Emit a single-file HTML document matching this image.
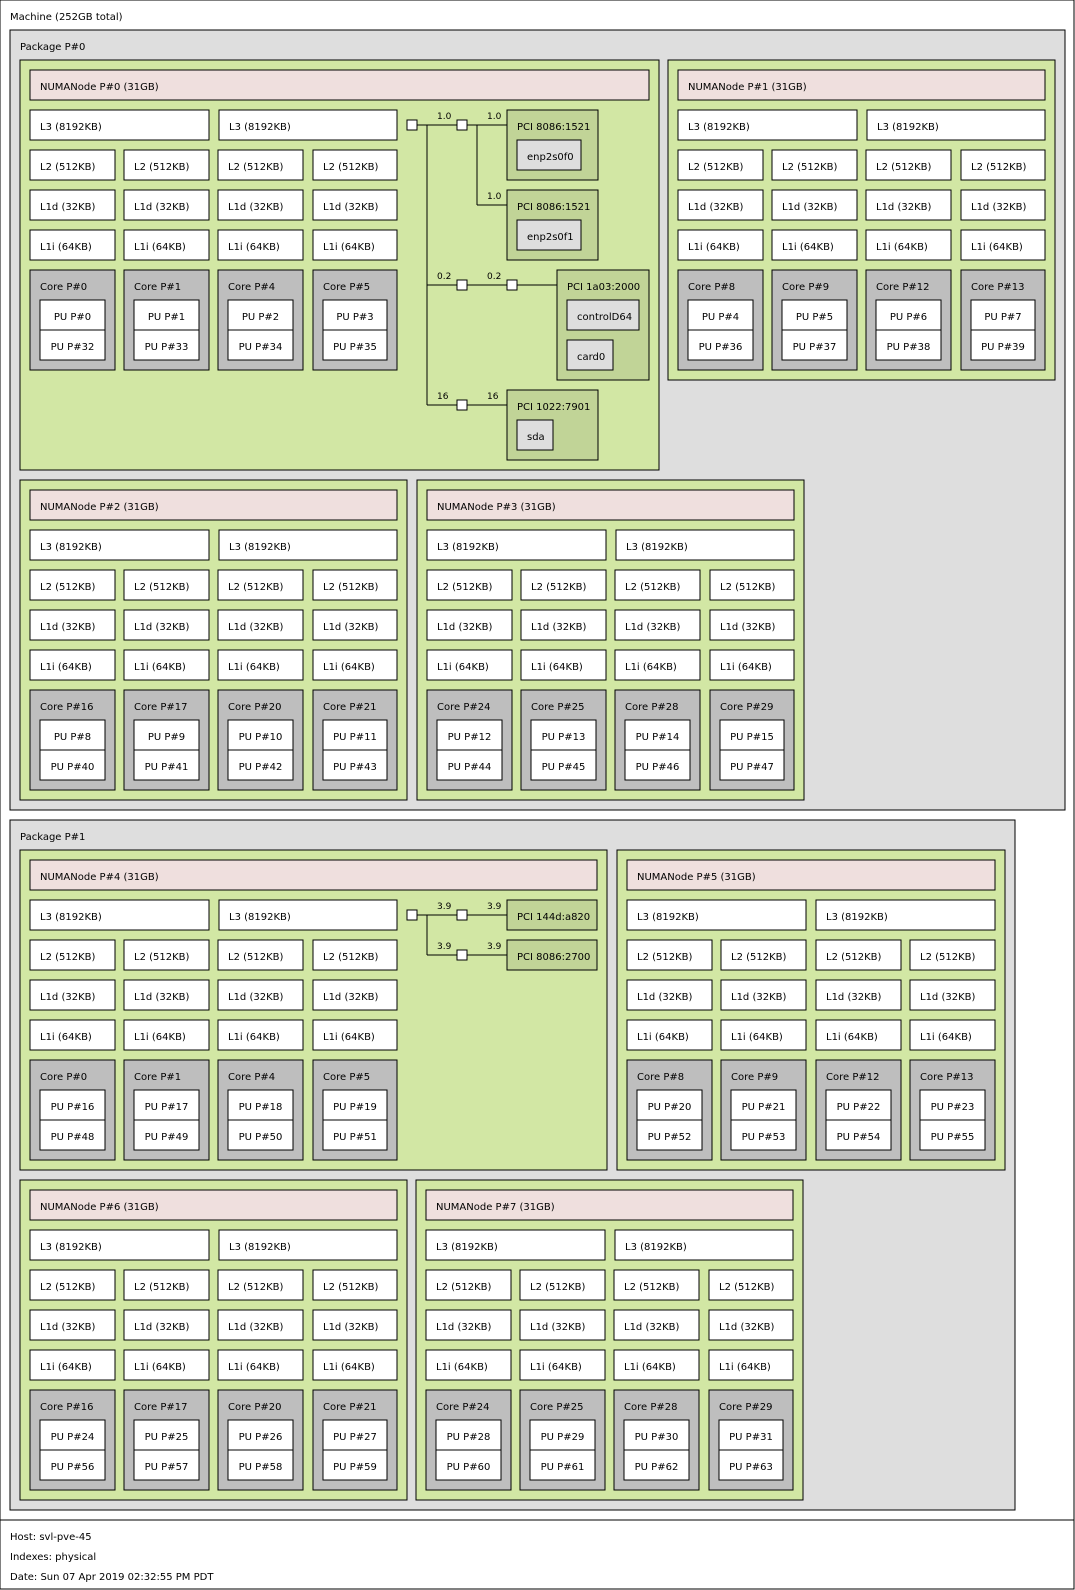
<!DOCTYPE html>
<html>
<head>
<meta charset="utf-8">
<style>
html,body{margin:0;padding:0;background:#fff;}
svg{display:block;}
rect{stroke:#000;stroke-width:1;}
line{stroke:#000;stroke-width:1;}
text{font-family:"DejaVu Sans","Liberation Sans",sans-serif;font-size:10px;fill:#000;}
.g{fill:#d2e7a4}.h{fill:#efdfde}.w{fill:#fff}.c{fill:#bebebe}.k{fill:#dedede}.q{fill:#c1d497}.p{fill:#dedede}
.m{text-anchor:middle}
.s{font-size:9px}
</style>
</head>
<body>
<svg width="1075" height="1590" viewBox="0 0 1075 1590" xmlns="http://www.w3.org/2000/svg">
<rect class="w" x="0" y="0" width="1074" height="1589"/>
<line x1="0" y1="1520" x2="1074" y2="1520"/>
<text x="10" y="20">Machine (252GB total)</text>
<text x="10" y="1540">Host: svl-pve-45</text>
<text x="10" y="1560">Indexes: physical</text>
<text x="10" y="1580">Date: Sun 07 Apr 2019 02:32:55 PM PDT</text>

<!-- Package 0 -->
<rect class="p" x="10" y="30" width="1055" height="780"/>
<text x="20" y="50">Package P#0</text>

<!-- NUMA0 -->
<g transform="translate(20,60)">
<rect class="g" x="0" y="0" width="639" height="410"/>
<rect class="h" x="10" y="10" width="619" height="30"/><text x="20" y="30">NUMANode P#0 (31GB)</text>
<rect class="w" x="10" y="50" width="179" height="30"/><text x="20" y="70">L3 (8192KB)</text>
<rect class="w" x="199" y="50" width="178" height="30"/><text x="209" y="70">L3 (8192KB)</text>
<rect class="w" x="10" y="90" width="85" height="30"/><text x="20" y="110">L2 (512KB)</text>
<rect class="w" x="104" y="90" width="85" height="30"/><text x="114" y="110">L2 (512KB)</text>
<rect class="w" x="198" y="90" width="85" height="30"/><text x="208" y="110">L2 (512KB)</text>
<rect class="w" x="293" y="90" width="84" height="30"/><text x="303" y="110">L2 (512KB)</text>
<rect class="w" x="10" y="130" width="85" height="30"/><text x="20" y="150">L1d (32KB)</text>
<rect class="w" x="104" y="130" width="85" height="30"/><text x="114" y="150">L1d (32KB)</text>
<rect class="w" x="198" y="130" width="85" height="30"/><text x="208" y="150">L1d (32KB)</text>
<rect class="w" x="293" y="130" width="84" height="30"/><text x="303" y="150">L1d (32KB)</text>
<rect class="w" x="10" y="170" width="85" height="30"/><text x="20" y="190">L1i (64KB)</text>
<rect class="w" x="104" y="170" width="85" height="30"/><text x="114" y="190">L1i (64KB)</text>
<rect class="w" x="198" y="170" width="85" height="30"/><text x="208" y="190">L1i (64KB)</text>
<rect class="w" x="293" y="170" width="84" height="30"/><text x="303" y="190">L1i (64KB)</text>
<rect class="c" x="10" y="210" width="85" height="100"/><text x="20" y="230">Core P#0</text>
<rect class="w" x="20" y="240" width="65" height="30"/><text class="m" x="52.5" y="260">PU P#0</text>
<rect class="w" x="20" y="270" width="65" height="30"/><text class="m" x="52.5" y="290">PU P#32</text>
<rect class="c" x="104" y="210" width="85" height="100"/><text x="114" y="230">Core P#1</text>
<rect class="w" x="114" y="240" width="65" height="30"/><text class="m" x="146.5" y="260">PU P#1</text>
<rect class="w" x="114" y="270" width="65" height="30"/><text class="m" x="146.5" y="290">PU P#33</text>
<rect class="c" x="198" y="210" width="85" height="100"/><text x="208" y="230">Core P#4</text>
<rect class="w" x="208" y="240" width="65" height="30"/><text class="m" x="240.5" y="260">PU P#2</text>
<rect class="w" x="208" y="270" width="65" height="30"/><text class="m" x="240.5" y="290">PU P#34</text>
<rect class="c" x="293" y="210" width="84" height="100"/><text x="303" y="230">Core P#5</text>
<rect class="w" x="303" y="240" width="64" height="30"/><text class="m" x="335" y="260">PU P#3</text>
<rect class="w" x="303" y="270" width="64" height="30"/><text class="m" x="335" y="290">PU P#35</text>
</g>

<!-- NUMA0 PCI -->
<line x1="417" y1="125" x2="457" y2="125"/>
<line x1="427" y1="125" x2="427" y2="405"/>
<line x1="467" y1="125" x2="507" y2="125"/>
<line x1="477" y1="125" x2="477" y2="205"/>
<line x1="477" y1="205" x2="507" y2="205"/>
<line x1="427" y1="285" x2="457" y2="285"/>
<line x1="467" y1="285" x2="507" y2="285"/>
<line x1="517" y1="285" x2="557" y2="285"/>
<line x1="427" y1="405" x2="457" y2="405"/>
<line x1="467" y1="405" x2="507" y2="405"/>
<rect class="w" x="407" y="120" width="10" height="10"/>
<rect class="w" x="457" y="120" width="10" height="10"/>
<rect class="w" x="457" y="280" width="10" height="10"/>
<rect class="w" x="507" y="280" width="10" height="10"/>
<rect class="w" x="457" y="400" width="10" height="10"/>
<text class="s" x="437" y="119">1.0</text>
<text class="s" x="487" y="119">1.0</text>
<text class="s" x="487" y="199">1.0</text>
<text class="s" x="437" y="279">0.2</text>
<text class="s" x="487" y="279">0.2</text>
<text class="s" x="437" y="399">16</text>
<text class="s" x="487" y="399">16</text>
<rect class="q" x="507" y="110" width="91" height="70"/><text x="517" y="130">PCI 8086:1521</text>
<rect class="k" x="517" y="140" width="64" height="30"/><text x="527" y="160">enp2s0f0</text>
<rect class="q" x="507" y="190" width="91" height="70"/><text x="517" y="210">PCI 8086:1521</text>
<rect class="k" x="517" y="220" width="64" height="30"/><text x="527" y="240">enp2s0f1</text>
<rect class="q" x="557" y="270" width="92" height="110"/><text x="567" y="290">PCI 1a03:2000</text>
<rect class="k" x="567" y="300" width="72" height="30"/><text x="577" y="320">controlD64</text>
<rect class="k" x="567" y="340" width="46" height="30"/><text x="577" y="360">card0</text>
<rect class="q" x="507" y="390" width="91" height="70"/><text x="517" y="410">PCI 1022:7901</text>
<rect class="k" x="517" y="420" width="36" height="30"/><text x="527" y="440">sda</text>

<!-- NUMA1 -->
<g transform="translate(668,60)">
<rect class="g" x="0" y="0" width="387" height="320"/>
<rect class="h" x="10" y="10" width="367" height="30"/><text x="20" y="30">NUMANode P#1 (31GB)</text>
<rect class="w" x="10" y="50" width="179" height="30"/><text x="20" y="70">L3 (8192KB)</text>
<rect class="w" x="199" y="50" width="178" height="30"/><text x="209" y="70">L3 (8192KB)</text>
<rect class="w" x="10" y="90" width="85" height="30"/><text x="20" y="110">L2 (512KB)</text>
<rect class="w" x="104" y="90" width="85" height="30"/><text x="114" y="110">L2 (512KB)</text>
<rect class="w" x="198" y="90" width="85" height="30"/><text x="208" y="110">L2 (512KB)</text>
<rect class="w" x="293" y="90" width="84" height="30"/><text x="303" y="110">L2 (512KB)</text>
<rect class="w" x="10" y="130" width="85" height="30"/><text x="20" y="150">L1d (32KB)</text>
<rect class="w" x="104" y="130" width="85" height="30"/><text x="114" y="150">L1d (32KB)</text>
<rect class="w" x="198" y="130" width="85" height="30"/><text x="208" y="150">L1d (32KB)</text>
<rect class="w" x="293" y="130" width="84" height="30"/><text x="303" y="150">L1d (32KB)</text>
<rect class="w" x="10" y="170" width="85" height="30"/><text x="20" y="190">L1i (64KB)</text>
<rect class="w" x="104" y="170" width="85" height="30"/><text x="114" y="190">L1i (64KB)</text>
<rect class="w" x="198" y="170" width="85" height="30"/><text x="208" y="190">L1i (64KB)</text>
<rect class="w" x="293" y="170" width="84" height="30"/><text x="303" y="190">L1i (64KB)</text>
<rect class="c" x="10" y="210" width="85" height="100"/><text x="20" y="230">Core P#8</text>
<rect class="w" x="20" y="240" width="65" height="30"/><text class="m" x="52.5" y="260">PU P#4</text>
<rect class="w" x="20" y="270" width="65" height="30"/><text class="m" x="52.5" y="290">PU P#36</text>
<rect class="c" x="104" y="210" width="85" height="100"/><text x="114" y="230">Core P#9</text>
<rect class="w" x="114" y="240" width="65" height="30"/><text class="m" x="146.5" y="260">PU P#5</text>
<rect class="w" x="114" y="270" width="65" height="30"/><text class="m" x="146.5" y="290">PU P#37</text>
<rect class="c" x="198" y="210" width="85" height="100"/><text x="208" y="230">Core P#12</text>
<rect class="w" x="208" y="240" width="65" height="30"/><text class="m" x="240.5" y="260">PU P#6</text>
<rect class="w" x="208" y="270" width="65" height="30"/><text class="m" x="240.5" y="290">PU P#38</text>
<rect class="c" x="293" y="210" width="84" height="100"/><text x="303" y="230">Core P#13</text>
<rect class="w" x="303" y="240" width="64" height="30"/><text class="m" x="335" y="260">PU P#7</text>
<rect class="w" x="303" y="270" width="64" height="30"/><text class="m" x="335" y="290">PU P#39</text>
</g>

<!-- NUMA2 -->
<g transform="translate(20,480)">
<rect class="g" x="0" y="0" width="387" height="320"/>
<rect class="h" x="10" y="10" width="367" height="30"/><text x="20" y="30">NUMANode P#2 (31GB)</text>
<rect class="w" x="10" y="50" width="179" height="30"/><text x="20" y="70">L3 (8192KB)</text>
<rect class="w" x="199" y="50" width="178" height="30"/><text x="209" y="70">L3 (8192KB)</text>
<rect class="w" x="10" y="90" width="85" height="30"/><text x="20" y="110">L2 (512KB)</text>
<rect class="w" x="104" y="90" width="85" height="30"/><text x="114" y="110">L2 (512KB)</text>
<rect class="w" x="198" y="90" width="85" height="30"/><text x="208" y="110">L2 (512KB)</text>
<rect class="w" x="293" y="90" width="84" height="30"/><text x="303" y="110">L2 (512KB)</text>
<rect class="w" x="10" y="130" width="85" height="30"/><text x="20" y="150">L1d (32KB)</text>
<rect class="w" x="104" y="130" width="85" height="30"/><text x="114" y="150">L1d (32KB)</text>
<rect class="w" x="198" y="130" width="85" height="30"/><text x="208" y="150">L1d (32KB)</text>
<rect class="w" x="293" y="130" width="84" height="30"/><text x="303" y="150">L1d (32KB)</text>
<rect class="w" x="10" y="170" width="85" height="30"/><text x="20" y="190">L1i (64KB)</text>
<rect class="w" x="104" y="170" width="85" height="30"/><text x="114" y="190">L1i (64KB)</text>
<rect class="w" x="198" y="170" width="85" height="30"/><text x="208" y="190">L1i (64KB)</text>
<rect class="w" x="293" y="170" width="84" height="30"/><text x="303" y="190">L1i (64KB)</text>
<rect class="c" x="10" y="210" width="85" height="100"/><text x="20" y="230">Core P#16</text>
<rect class="w" x="20" y="240" width="65" height="30"/><text class="m" x="52.5" y="260">PU P#8</text>
<rect class="w" x="20" y="270" width="65" height="30"/><text class="m" x="52.5" y="290">PU P#40</text>
<rect class="c" x="104" y="210" width="85" height="100"/><text x="114" y="230">Core P#17</text>
<rect class="w" x="114" y="240" width="65" height="30"/><text class="m" x="146.5" y="260">PU P#9</text>
<rect class="w" x="114" y="270" width="65" height="30"/><text class="m" x="146.5" y="290">PU P#41</text>
<rect class="c" x="198" y="210" width="85" height="100"/><text x="208" y="230">Core P#20</text>
<rect class="w" x="208" y="240" width="65" height="30"/><text class="m" x="240.5" y="260">PU P#10</text>
<rect class="w" x="208" y="270" width="65" height="30"/><text class="m" x="240.5" y="290">PU P#42</text>
<rect class="c" x="293" y="210" width="84" height="100"/><text x="303" y="230">Core P#21</text>
<rect class="w" x="303" y="240" width="64" height="30"/><text class="m" x="335" y="260">PU P#11</text>
<rect class="w" x="303" y="270" width="64" height="30"/><text class="m" x="335" y="290">PU P#43</text>
</g>

<!-- NUMA3 -->
<g transform="translate(417,480)">
<rect class="g" x="0" y="0" width="387" height="320"/>
<rect class="h" x="10" y="10" width="367" height="30"/><text x="20" y="30">NUMANode P#3 (31GB)</text>
<rect class="w" x="10" y="50" width="179" height="30"/><text x="20" y="70">L3 (8192KB)</text>
<rect class="w" x="199" y="50" width="178" height="30"/><text x="209" y="70">L3 (8192KB)</text>
<rect class="w" x="10" y="90" width="85" height="30"/><text x="20" y="110">L2 (512KB)</text>
<rect class="w" x="104" y="90" width="85" height="30"/><text x="114" y="110">L2 (512KB)</text>
<rect class="w" x="198" y="90" width="85" height="30"/><text x="208" y="110">L2 (512KB)</text>
<rect class="w" x="293" y="90" width="84" height="30"/><text x="303" y="110">L2 (512KB)</text>
<rect class="w" x="10" y="130" width="85" height="30"/><text x="20" y="150">L1d (32KB)</text>
<rect class="w" x="104" y="130" width="85" height="30"/><text x="114" y="150">L1d (32KB)</text>
<rect class="w" x="198" y="130" width="85" height="30"/><text x="208" y="150">L1d (32KB)</text>
<rect class="w" x="293" y="130" width="84" height="30"/><text x="303" y="150">L1d (32KB)</text>
<rect class="w" x="10" y="170" width="85" height="30"/><text x="20" y="190">L1i (64KB)</text>
<rect class="w" x="104" y="170" width="85" height="30"/><text x="114" y="190">L1i (64KB)</text>
<rect class="w" x="198" y="170" width="85" height="30"/><text x="208" y="190">L1i (64KB)</text>
<rect class="w" x="293" y="170" width="84" height="30"/><text x="303" y="190">L1i (64KB)</text>
<rect class="c" x="10" y="210" width="85" height="100"/><text x="20" y="230">Core P#24</text>
<rect class="w" x="20" y="240" width="65" height="30"/><text class="m" x="52.5" y="260">PU P#12</text>
<rect class="w" x="20" y="270" width="65" height="30"/><text class="m" x="52.5" y="290">PU P#44</text>
<rect class="c" x="104" y="210" width="85" height="100"/><text x="114" y="230">Core P#25</text>
<rect class="w" x="114" y="240" width="65" height="30"/><text class="m" x="146.5" y="260">PU P#13</text>
<rect class="w" x="114" y="270" width="65" height="30"/><text class="m" x="146.5" y="290">PU P#45</text>
<rect class="c" x="198" y="210" width="85" height="100"/><text x="208" y="230">Core P#28</text>
<rect class="w" x="208" y="240" width="65" height="30"/><text class="m" x="240.5" y="260">PU P#14</text>
<rect class="w" x="208" y="270" width="65" height="30"/><text class="m" x="240.5" y="290">PU P#46</text>
<rect class="c" x="293" y="210" width="84" height="100"/><text x="303" y="230">Core P#29</text>
<rect class="w" x="303" y="240" width="64" height="30"/><text class="m" x="335" y="260">PU P#15</text>
<rect class="w" x="303" y="270" width="64" height="30"/><text class="m" x="335" y="290">PU P#47</text>
</g>

<!-- Package 1 -->
<rect class="p" x="10" y="820" width="1005" height="690"/>
<text x="20" y="840">Package P#1</text>

<!-- NUMA4 -->
<g transform="translate(20,850)">
<rect class="g" x="0" y="0" width="587" height="320"/>
<rect class="h" x="10" y="10" width="567" height="30"/><text x="20" y="30">NUMANode P#4 (31GB)</text>
<rect class="w" x="10" y="50" width="179" height="30"/><text x="20" y="70">L3 (8192KB)</text>
<rect class="w" x="199" y="50" width="178" height="30"/><text x="209" y="70">L3 (8192KB)</text>
<rect class="w" x="10" y="90" width="85" height="30"/><text x="20" y="110">L2 (512KB)</text>
<rect class="w" x="104" y="90" width="85" height="30"/><text x="114" y="110">L2 (512KB)</text>
<rect class="w" x="198" y="90" width="85" height="30"/><text x="208" y="110">L2 (512KB)</text>
<rect class="w" x="293" y="90" width="84" height="30"/><text x="303" y="110">L2 (512KB)</text>
<rect class="w" x="10" y="130" width="85" height="30"/><text x="20" y="150">L1d (32KB)</text>
<rect class="w" x="104" y="130" width="85" height="30"/><text x="114" y="150">L1d (32KB)</text>
<rect class="w" x="198" y="130" width="85" height="30"/><text x="208" y="150">L1d (32KB)</text>
<rect class="w" x="293" y="130" width="84" height="30"/><text x="303" y="150">L1d (32KB)</text>
<rect class="w" x="10" y="170" width="85" height="30"/><text x="20" y="190">L1i (64KB)</text>
<rect class="w" x="104" y="170" width="85" height="30"/><text x="114" y="190">L1i (64KB)</text>
<rect class="w" x="198" y="170" width="85" height="30"/><text x="208" y="190">L1i (64KB)</text>
<rect class="w" x="293" y="170" width="84" height="30"/><text x="303" y="190">L1i (64KB)</text>
<rect class="c" x="10" y="210" width="85" height="100"/><text x="20" y="230">Core P#0</text>
<rect class="w" x="20" y="240" width="65" height="30"/><text class="m" x="52.5" y="260">PU P#16</text>
<rect class="w" x="20" y="270" width="65" height="30"/><text class="m" x="52.5" y="290">PU P#48</text>
<rect class="c" x="104" y="210" width="85" height="100"/><text x="114" y="230">Core P#1</text>
<rect class="w" x="114" y="240" width="65" height="30"/><text class="m" x="146.5" y="260">PU P#17</text>
<rect class="w" x="114" y="270" width="65" height="30"/><text class="m" x="146.5" y="290">PU P#49</text>
<rect class="c" x="198" y="210" width="85" height="100"/><text x="208" y="230">Core P#4</text>
<rect class="w" x="208" y="240" width="65" height="30"/><text class="m" x="240.5" y="260">PU P#18</text>
<rect class="w" x="208" y="270" width="65" height="30"/><text class="m" x="240.5" y="290">PU P#50</text>
<rect class="c" x="293" y="210" width="84" height="100"/><text x="303" y="230">Core P#5</text>
<rect class="w" x="303" y="240" width="64" height="30"/><text class="m" x="335" y="260">PU P#19</text>
<rect class="w" x="303" y="270" width="64" height="30"/><text class="m" x="335" y="290">PU P#51</text>
</g>

<!-- NUMA4 PCI -->
<line x1="417" y1="915" x2="457" y2="915"/>
<line x1="427" y1="915" x2="427" y2="955"/>
<line x1="467" y1="915" x2="507" y2="915"/>
<line x1="427" y1="955" x2="457" y2="955"/>
<line x1="467" y1="955" x2="507" y2="955"/>
<rect class="w" x="407" y="910" width="10" height="10"/>
<rect class="w" x="457" y="910" width="10" height="10"/>
<rect class="w" x="457" y="950" width="10" height="10"/>
<text class="s" x="437" y="909">3.9</text>
<text class="s" x="487" y="909">3.9</text>
<text class="s" x="437" y="949">3.9</text>
<text class="s" x="487" y="949">3.9</text>
<rect class="q" x="507" y="900" width="90" height="30"/><text x="517" y="920">PCI 144d:a820</text>
<rect class="q" x="507" y="940" width="90" height="30"/><text x="517" y="960">PCI 8086:2700</text>

<!-- NUMA5 -->
<g transform="translate(617,850)">
<rect class="g" x="0" y="0" width="388" height="320"/>
<rect class="h" x="10" y="10" width="368" height="30"/><text x="20" y="30">NUMANode P#5 (31GB)</text>
<rect class="w" x="10" y="50" width="179" height="30"/><text x="20" y="70">L3 (8192KB)</text>
<rect class="w" x="199" y="50" width="179" height="30"/><text x="209" y="70">L3 (8192KB)</text>
<rect class="w" x="10" y="90" width="85" height="30"/><text x="20" y="110">L2 (512KB)</text>
<rect class="w" x="104" y="90" width="85" height="30"/><text x="114" y="110">L2 (512KB)</text>
<rect class="w" x="199" y="90" width="85" height="30"/><text x="209" y="110">L2 (512KB)</text>
<rect class="w" x="293" y="90" width="85" height="30"/><text x="303" y="110">L2 (512KB)</text>
<rect class="w" x="10" y="130" width="85" height="30"/><text x="20" y="150">L1d (32KB)</text>
<rect class="w" x="104" y="130" width="85" height="30"/><text x="114" y="150">L1d (32KB)</text>
<rect class="w" x="199" y="130" width="85" height="30"/><text x="209" y="150">L1d (32KB)</text>
<rect class="w" x="293" y="130" width="85" height="30"/><text x="303" y="150">L1d (32KB)</text>
<rect class="w" x="10" y="170" width="85" height="30"/><text x="20" y="190">L1i (64KB)</text>
<rect class="w" x="104" y="170" width="85" height="30"/><text x="114" y="190">L1i (64KB)</text>
<rect class="w" x="199" y="170" width="85" height="30"/><text x="209" y="190">L1i (64KB)</text>
<rect class="w" x="293" y="170" width="85" height="30"/><text x="303" y="190">L1i (64KB)</text>
<rect class="c" x="10" y="210" width="85" height="100"/><text x="20" y="230">Core P#8</text>
<rect class="w" x="20" y="240" width="65" height="30"/><text class="m" x="52.5" y="260">PU P#20</text>
<rect class="w" x="20" y="270" width="65" height="30"/><text class="m" x="52.5" y="290">PU P#52</text>
<rect class="c" x="104" y="210" width="85" height="100"/><text x="114" y="230">Core P#9</text>
<rect class="w" x="114" y="240" width="65" height="30"/><text class="m" x="146.5" y="260">PU P#21</text>
<rect class="w" x="114" y="270" width="65" height="30"/><text class="m" x="146.5" y="290">PU P#53</text>
<rect class="c" x="199" y="210" width="85" height="100"/><text x="209" y="230">Core P#12</text>
<rect class="w" x="209" y="240" width="65" height="30"/><text class="m" x="241.5" y="260">PU P#22</text>
<rect class="w" x="209" y="270" width="65" height="30"/><text class="m" x="241.5" y="290">PU P#54</text>
<rect class="c" x="293" y="210" width="85" height="100"/><text x="303" y="230">Core P#13</text>
<rect class="w" x="303" y="240" width="65" height="30"/><text class="m" x="335.5" y="260">PU P#23</text>
<rect class="w" x="303" y="270" width="65" height="30"/><text class="m" x="335.5" y="290">PU P#55</text>
</g>

<!-- NUMA6 -->
<g transform="translate(20,1180)">
<rect class="g" x="0" y="0" width="387" height="320"/>
<rect class="h" x="10" y="10" width="367" height="30"/><text x="20" y="30">NUMANode P#6 (31GB)</text>
<rect class="w" x="10" y="50" width="179" height="30"/><text x="20" y="70">L3 (8192KB)</text>
<rect class="w" x="199" y="50" width="178" height="30"/><text x="209" y="70">L3 (8192KB)</text>
<rect class="w" x="10" y="90" width="85" height="30"/><text x="20" y="110">L2 (512KB)</text>
<rect class="w" x="104" y="90" width="85" height="30"/><text x="114" y="110">L2 (512KB)</text>
<rect class="w" x="198" y="90" width="85" height="30"/><text x="208" y="110">L2 (512KB)</text>
<rect class="w" x="293" y="90" width="84" height="30"/><text x="303" y="110">L2 (512KB)</text>
<rect class="w" x="10" y="130" width="85" height="30"/><text x="20" y="150">L1d (32KB)</text>
<rect class="w" x="104" y="130" width="85" height="30"/><text x="114" y="150">L1d (32KB)</text>
<rect class="w" x="198" y="130" width="85" height="30"/><text x="208" y="150">L1d (32KB)</text>
<rect class="w" x="293" y="130" width="84" height="30"/><text x="303" y="150">L1d (32KB)</text>
<rect class="w" x="10" y="170" width="85" height="30"/><text x="20" y="190">L1i (64KB)</text>
<rect class="w" x="104" y="170" width="85" height="30"/><text x="114" y="190">L1i (64KB)</text>
<rect class="w" x="198" y="170" width="85" height="30"/><text x="208" y="190">L1i (64KB)</text>
<rect class="w" x="293" y="170" width="84" height="30"/><text x="303" y="190">L1i (64KB)</text>
<rect class="c" x="10" y="210" width="85" height="100"/><text x="20" y="230">Core P#16</text>
<rect class="w" x="20" y="240" width="65" height="30"/><text class="m" x="52.5" y="260">PU P#24</text>
<rect class="w" x="20" y="270" width="65" height="30"/><text class="m" x="52.5" y="290">PU P#56</text>
<rect class="c" x="104" y="210" width="85" height="100"/><text x="114" y="230">Core P#17</text>
<rect class="w" x="114" y="240" width="65" height="30"/><text class="m" x="146.5" y="260">PU P#25</text>
<rect class="w" x="114" y="270" width="65" height="30"/><text class="m" x="146.5" y="290">PU P#57</text>
<rect class="c" x="198" y="210" width="85" height="100"/><text x="208" y="230">Core P#20</text>
<rect class="w" x="208" y="240" width="65" height="30"/><text class="m" x="240.5" y="260">PU P#26</text>
<rect class="w" x="208" y="270" width="65" height="30"/><text class="m" x="240.5" y="290">PU P#58</text>
<rect class="c" x="293" y="210" width="84" height="100"/><text x="303" y="230">Core P#21</text>
<rect class="w" x="303" y="240" width="64" height="30"/><text class="m" x="335" y="260">PU P#27</text>
<rect class="w" x="303" y="270" width="64" height="30"/><text class="m" x="335" y="290">PU P#59</text>
</g>

<!-- NUMA7 -->
<g transform="translate(416,1180)">
<rect class="g" x="0" y="0" width="387" height="320"/>
<rect class="h" x="10" y="10" width="367" height="30"/><text x="20" y="30">NUMANode P#7 (31GB)</text>
<rect class="w" x="10" y="50" width="179" height="30"/><text x="20" y="70">L3 (8192KB)</text>
<rect class="w" x="199" y="50" width="178" height="30"/><text x="209" y="70">L3 (8192KB)</text>
<rect class="w" x="10" y="90" width="85" height="30"/><text x="20" y="110">L2 (512KB)</text>
<rect class="w" x="104" y="90" width="85" height="30"/><text x="114" y="110">L2 (512KB)</text>
<rect class="w" x="198" y="90" width="85" height="30"/><text x="208" y="110">L2 (512KB)</text>
<rect class="w" x="293" y="90" width="84" height="30"/><text x="303" y="110">L2 (512KB)</text>
<rect class="w" x="10" y="130" width="85" height="30"/><text x="20" y="150">L1d (32KB)</text>
<rect class="w" x="104" y="130" width="85" height="30"/><text x="114" y="150">L1d (32KB)</text>
<rect class="w" x="198" y="130" width="85" height="30"/><text x="208" y="150">L1d (32KB)</text>
<rect class="w" x="293" y="130" width="84" height="30"/><text x="303" y="150">L1d (32KB)</text>
<rect class="w" x="10" y="170" width="85" height="30"/><text x="20" y="190">L1i (64KB)</text>
<rect class="w" x="104" y="170" width="85" height="30"/><text x="114" y="190">L1i (64KB)</text>
<rect class="w" x="198" y="170" width="85" height="30"/><text x="208" y="190">L1i (64KB)</text>
<rect class="w" x="293" y="170" width="84" height="30"/><text x="303" y="190">L1i (64KB)</text>
<rect class="c" x="10" y="210" width="85" height="100"/><text x="20" y="230">Core P#24</text>
<rect class="w" x="20" y="240" width="65" height="30"/><text class="m" x="52.5" y="260">PU P#28</text>
<rect class="w" x="20" y="270" width="65" height="30"/><text class="m" x="52.5" y="290">PU P#60</text>
<rect class="c" x="104" y="210" width="85" height="100"/><text x="114" y="230">Core P#25</text>
<rect class="w" x="114" y="240" width="65" height="30"/><text class="m" x="146.5" y="260">PU P#29</text>
<rect class="w" x="114" y="270" width="65" height="30"/><text class="m" x="146.5" y="290">PU P#61</text>
<rect class="c" x="198" y="210" width="85" height="100"/><text x="208" y="230">Core P#28</text>
<rect class="w" x="208" y="240" width="65" height="30"/><text class="m" x="240.5" y="260">PU P#30</text>
<rect class="w" x="208" y="270" width="65" height="30"/><text class="m" x="240.5" y="290">PU P#62</text>
<rect class="c" x="293" y="210" width="84" height="100"/><text x="303" y="230">Core P#29</text>
<rect class="w" x="303" y="240" width="64" height="30"/><text class="m" x="335" y="260">PU P#31</text>
<rect class="w" x="303" y="270" width="64" height="30"/><text class="m" x="335" y="290">PU P#63</text>
</g>
</svg>
</body>
</html>
